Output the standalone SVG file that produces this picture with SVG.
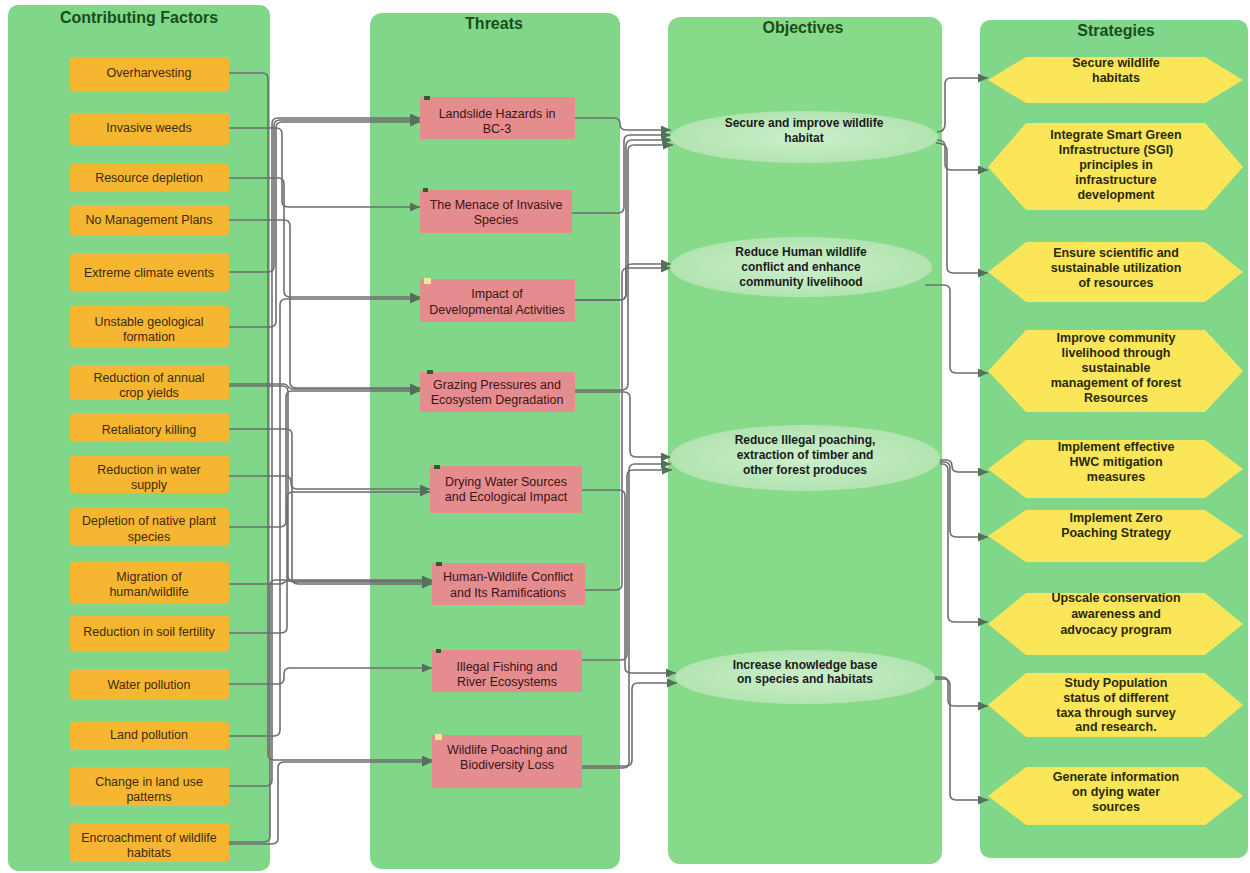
<svg xmlns="http://www.w3.org/2000/svg" width="1250" height="873" viewBox="0 0 1250 873">
<style>
.panel{fill:#80D78A}
.ptitle{font-family:"Liberation Sans",Arial,sans-serif;font-size:16px;font-weight:bold;fill:#1a4d1a;text-anchor:middle}
.fbox{fill:#F6B631}
.ftxt{font-family:"Liberation Sans",Arial,sans-serif;font-size:12.5px;fill:#3d2b0a;text-anchor:middle}
.tbox{fill:#E58C8F}
.ttxt{font-family:"Liberation Sans",Arial,sans-serif;font-size:12.5px;fill:#3a1515;text-anchor:middle}
.obj{fill:url(#eg)}
.otxt{font-family:"Liberation Sans",Arial,sans-serif;font-size:12px;font-weight:bold;fill:#1a1a1a;text-anchor:middle}
.hex{fill:#FBE65A}
.stxt{font-family:"Liberation Sans",Arial,sans-serif;font-size:12.5px;font-weight:bold;fill:#2a2a05;text-anchor:middle}
.edge{fill:none;stroke:#6e6e6e;stroke-width:1.6;marker-end:url(#arr)}
.mk{fill:#2d5e2d}
.mky{fill:#f3e79a}
</style>
<defs>
<marker id="arr" markerUnits="userSpaceOnUse" markerWidth="11" markerHeight="9" refX="10" refY="4.5" orient="auto">
<path d="M0,0 L10,4.5 L0,9 z" fill="#55705a"/>
</marker>
<radialGradient id="eg" cx="0.5" cy="0.5" r="0.5">
<stop offset="0" stop-color="#CDEFCB"/>
<stop offset="1" stop-color="#B2E4B1"/>
</radialGradient>
</defs>

<g id="panels">
<rect class="panel" x="8" y="5" width="262" height="866" rx="10"/>
<rect class="panel" x="370" y="13" width="250" height="856" rx="12"/>
<rect class="panel" x="668" y="17" width="274" height="847" rx="12" style="fill:#88DA8B"/>
<rect class="panel" x="980" y="20" width="268" height="838" rx="10"/>
<text class="ptitle" x="139" y="23">Contributing Factors</text>
<text class="ptitle" x="494" y="29">Threats</text>
<text class="ptitle" x="803" y="33">Objectives</text>
<text class="ptitle" x="1116" y="36">Strategies</text>
</g>

<g id="connectors">
<!-- factors to threats -->
<path class="edge" d="M228,73 H262 Q268,73 268,79 V754 Q268,760 274,760 H432"/>
<path class="edge" d="M228,128 H276 Q282,128 282,134 V201 Q282,207 288,207 H420"/>
<path class="edge" d="M228,272 H268 Q274,272 274,266 V126 Q274,120 280,120 H420"/>
<path class="edge" d="M228,327 H270 Q276,327 276,321 V128 Q276,122 282,122 H420"/>
<path class="edge" d="M228,786 H266 Q272,786 272,780 V124 Q272,118 278,118 H420"/>
<path class="edge" d="M228,178 H278 Q284,178 284,184 V291 Q284,297 290,297 H420"/>
<path class="edge" d="M228,736 H274 Q280,736 280,730 V305 Q280,299 286,299 H420"/>
<path class="edge" d="M228,220 H284 Q290,220 290,226 V382 Q290,388 296,388 H420"/>
<path class="edge" d="M228,384 H284 C288,384 288,389 292,389 H420"/>
<path class="edge" d="M228,527 H280 Q286,527 286,521 V397 Q286,391 292,391 H420"/>
<path class="edge" d="M228,633 H281 Q287,633 287,627 V498 Q287,492 293,492 H430"/>
<path class="edge" d="M228,476 H285 Q291,476 291,482 V483 Q291,489 297,489 H430"/>
<path class="edge" d="M228,584 H280 C284,584 284,581 288,581 H432"/>
<path class="edge" d="M228,429 H286 Q292,429 292,435 V578 Q292,584 298,584 H432"/>
<path class="edge" d="M228,842 H264 Q270,842 270,836 V586 Q270,580 276,580 H432"/>
<path class="edge" d="M228,684 H278 Q284,684 284,678 V674 Q284,668 290,668 H432"/>
<path class="edge" d="M228,386 H282 Q288,386 288,392 V576 Q288,582 294,582 H432"/>
<path class="edge" d="M228,844 H272 Q278,844 278,838 V768 Q278,762 284,762 H432"/>
<!-- threats to objectives -->
<path class="edge" d="M575,118 H614 Q620,118 620,124 Q620,130 626,130 H671"/>
<path class="edge" d="M572,213 H618 Q624,213 624,207 V141 Q624,135 630,135 H671"/>
<path class="edge" d="M575,300 H620 Q626,300 626,294 V146 Q626,140 632,140 H672"/>
<path class="edge" d="M575,300 H620 Q626,300 626,294 V270 Q626,264 632,264 H671"/>
<path class="edge" d="M575,390 H622 Q628,390 628,384 V151 Q628,145 634,145 H673"/>
<path class="edge" d="M575,392 H624 Q630,392 630,398 V451 Q630,457 636,457 H671"/>
<path class="edge" d="M582,490 H619 Q625,490 625,496 V667 Q625,673 631,673 H676"/>
<path class="edge" d="M585,590 H616 Q622,590 622,584 V274 Q622,268 628,268 H671"/>
<path class="edge" d="M582,660 H621 Q627,660 627,654 V476 Q627,470 633,470 H672"/>
<path class="edge" d="M582,768 H623 Q629,768 629,762 V470 Q629,464 635,464 H671"/>
<path class="edge" d="M582,766 H626 Q632,766 632,760 V689 Q632,683 638,683 H677"/>
<!-- objectives to strategies -->
<path class="edge" d="M937,132 Q945,132 945,124 V84 Q945,78 951,78 H988"/>
<path class="edge" d="M937,140 Q945,140 945,146 V164 Q945,170 951,170 H988"/>
<path class="edge" d="M936,143 Q947,143 947,151 V267 Q947,273 953,273 H988"/>
<path class="edge" d="M925,285 H944 Q950,285 950,291 V367 Q950,373 956,373 H988"/>
<path class="edge" d="M940,460 H946 Q952,460 952,466 Q952,472 958,472 H988"/>
<path class="edge" d="M940,462 H944 Q950,462 950,468 V531 Q950,537 956,537 H988"/>
<path class="edge" d="M940,464 H942 Q948,464 948,470 V616 Q948,622 954,622 H988"/>
<path class="edge" d="M935,677 H942 Q948,677 948,683 V700 Q948,706 954,706 H988"/>
<path class="edge" d="M935,679 H944 Q950,679 950,685 V794 Q950,800 956,800 H988"/>
</g>

<g id="factors">
<g id="f1"><rect class="fbox" x="70" y="57" width="159" height="34" rx="3"/><text class="ftxt" x="149" y="77">Overharvesting</text></g>
<g id="f2"><rect class="fbox" x="70" y="113" width="159" height="32" rx="3"/><text class="ftxt" x="149" y="132">Invasive weeds</text></g>
<g id="f3"><rect class="fbox" x="70" y="164" width="159" height="28" rx="3"/><text class="ftxt" x="149" y="182">Resource depletion</text></g>
<g id="f4"><rect class="fbox" x="70" y="205" width="159" height="31" rx="3"/><text class="ftxt" x="149" y="224">No Management Plans</text></g>
<g id="f5"><rect class="fbox" x="70" y="253" width="159" height="39" rx="3"/><text class="ftxt" x="149" y="277">Extreme climate events</text></g>
<g id="f6"><rect class="fbox" x="70" y="306" width="159" height="41" rx="3"/><text class="ftxt" x="149" y="326">Unstable geological</text><text class="ftxt" x="149" y="341">formation</text></g>
<g id="f7"><rect class="fbox" x="70" y="365" width="159" height="35" rx="3"/><text class="ftxt" x="149" y="382">Reduction of annual</text><text class="ftxt" x="149" y="397">crop yields</text></g>
<g id="f8"><rect class="fbox" x="70" y="413" width="159" height="29" rx="3"/><text class="ftxt" x="149" y="434">Retaliatory killing</text></g>
<g id="f9"><rect class="fbox" x="70" y="456" width="159" height="37" rx="3"/><text class="ftxt" x="149" y="474">Reduction in water</text><text class="ftxt" x="149" y="489">supply</text></g>
<g id="f10"><rect class="fbox" x="70" y="508" width="159" height="38" rx="3"/><text class="ftxt" x="149" y="525">Depletion of native plant</text><text class="ftxt" x="149" y="541">species</text></g>
<g id="f11"><rect class="fbox" x="70" y="562" width="159" height="42" rx="3"/><text class="ftxt" x="149" y="581">Migration of</text><text class="ftxt" x="149" y="596">human/wildlife</text></g>
<g id="f12"><rect class="fbox" x="70" y="616" width="159" height="35" rx="3"/><text class="ftxt" x="149" y="636">Reduction in soil fertility</text></g>
<g id="f13"><rect class="fbox" x="70" y="669" width="159" height="30" rx="3"/><text class="ftxt" x="149" y="689">Water pollution</text></g>
<g id="f14"><rect class="fbox" x="70" y="722" width="159" height="28" rx="3"/><text class="ftxt" x="149" y="739">Land pollution</text></g>
<g id="f15"><rect class="fbox" x="70" y="767" width="159" height="39" rx="3"/><text class="ftxt" x="149" y="786">Change in land use</text><text class="ftxt" x="149" y="801">patterns</text></g>
<g id="f16"><rect class="fbox" x="70" y="823" width="159" height="39" rx="3"/><text class="ftxt" x="149" y="842">Encroachment of wildlife</text><text class="ftxt" x="149" y="857">habitats</text></g>
</g>

<g id="threats">
<g id="t1"><rect class="tbox" x="420" y="97" width="155" height="42"/><rect class="mk" x="424" y="96" width="6" height="4"/><text class="ttxt" x="497" y="118">Landslide Hazards in</text><text class="ttxt" x="497" y="133">BC-3</text></g>
<g id="t2"><rect class="tbox" x="420" y="190" width="152" height="43"/><rect class="mk" x="423" y="188" width="5" height="4"/><text class="ttxt" x="496" y="209">The Menace of Invasive</text><text class="ttxt" x="496" y="224">Species</text></g>
<g id="t3"><rect class="tbox" x="420" y="279" width="155" height="43"/><rect class="mky" x="424" y="278" width="7" height="6"/><text class="ttxt" x="497" y="298">Impact of</text><text class="ttxt" x="497" y="314">Developmental Activities</text></g>
<g id="t4"><rect class="tbox" x="420" y="372" width="155" height="40"/><rect class="mk" x="427" y="370" width="6" height="4"/><text class="ttxt" x="497" y="389">Grazing Pressures and</text><text class="ttxt" x="497" y="404">Ecosystem Degradation</text></g>
<g id="t5"><rect class="tbox" x="430" y="466" width="152" height="47"/><rect class="mk" x="434" y="465" width="6" height="4"/><text class="ttxt" x="506" y="486">Drying Water Sources</text><text class="ttxt" x="506" y="501">and Ecological Impact</text></g>
<g id="t6"><rect class="tbox" x="432" y="563" width="153" height="42"/><rect class="mk" x="436" y="562" width="6" height="4"/><text class="ttxt" x="508" y="581">Human-Wildlife Conflict</text><text class="ttxt" x="508" y="597">and Its Ramifications</text></g>
<g id="t7"><rect class="tbox" x="432" y="650" width="150" height="42"/><rect class="mk" x="436" y="649" width="5" height="4"/><text class="ttxt" x="507" y="671">Illegal Fishing and</text><text class="ttxt" x="507" y="686">River Ecosystems</text></g>
<g id="t8"><rect class="tbox" x="432" y="735" width="150" height="53"/><rect class="mky" x="435" y="734" width="7" height="6"/><text class="ttxt" x="507" y="754">Wildlife Poaching and</text><text class="ttxt" x="507" y="769">Biodiversity Loss</text></g>
</g>

<g id="objectives">
<g id="o1"><ellipse class="obj" cx="804" cy="137" rx="134" ry="26"/><text class="otxt" x="804" y="127">Secure and improve wildlife</text><text class="otxt" x="804" y="142">habitat</text></g>
<g id="o2"><ellipse class="obj" cx="801" cy="267" rx="131" ry="30"/><text class="otxt" x="801" y="256">Reduce Human wildlife</text><text class="otxt" x="801" y="271">conflict and enhance</text><text class="otxt" x="801" y="286">community livelihood</text></g>
<g id="o3"><ellipse class="obj" cx="805" cy="458" rx="135" ry="33"/><text class="otxt" x="805" y="444">Reduce Illegal poaching,</text><text class="otxt" x="805" y="459">extraction of timber and</text><text class="otxt" x="805" y="474">other forest produces</text></g>
<g id="o4"><ellipse class="obj" cx="805" cy="677" rx="130" ry="27"/><text class="otxt" x="805" y="669">Increase knowledge base</text><text class="otxt" x="805" y="683">on species and habitats</text></g>
</g>

<g id="strategies">
<g id="s1"><polygon class="hex" points="988,80 1026,57 1205,57 1243,80 1205,103 1026,103"/><text class="stxt" x="1116" y="67">Secure wildlife</text><text class="stxt" x="1116" y="82">habitats</text></g>
<g id="s2"><polygon class="hex" points="988,167 1026,123 1205,123 1243,167 1205,210 1026,210"/><text class="stxt" x="1116" y="139">Integrate Smart Green</text><text class="stxt" x="1116" y="154">Infrastructure (SGI)</text><text class="stxt" x="1116" y="169">principles in</text><text class="stxt" x="1116" y="184">infrastructure</text><text class="stxt" x="1116" y="199">development</text></g>
<g id="s3"><polygon class="hex" points="988,272 1026,242 1205,242 1243,272 1205,302 1026,302"/><text class="stxt" x="1116" y="257">Ensure scientific and</text><text class="stxt" x="1116" y="272">sustainable utilization</text><text class="stxt" x="1116" y="287">of resources</text></g>
<g id="s4"><polygon class="hex" points="988,371 1026,330 1205,330 1243,371 1205,412 1026,412"/><text class="stxt" x="1116" y="342">Improve community</text><text class="stxt" x="1116" y="357">livelihood through</text><text class="stxt" x="1116" y="372">sustainable</text><text class="stxt" x="1116" y="387">management of forest</text><text class="stxt" x="1116" y="402">Resources</text></g>
<g id="s5"><polygon class="hex" points="988,469 1026,440 1205,440 1243,469 1205,498 1026,498"/><text class="stxt" x="1116" y="451">Implement effective</text><text class="stxt" x="1116" y="466">HWC mitigation</text><text class="stxt" x="1116" y="481">measures</text></g>
<g id="s6"><polygon class="hex" points="988,536 1026,510 1205,510 1243,536 1205,562 1026,562"/><text class="stxt" x="1116" y="522">Implement Zero</text><text class="stxt" x="1116" y="537">Poaching Strategy</text></g>
<g id="s7"><polygon class="hex" points="988,624 1026,593 1205,593 1243,624 1205,655 1026,655"/><text class="stxt" x="1116" y="602">Upscale conservation</text><text class="stxt" x="1116" y="618">awareness and</text><text class="stxt" x="1116" y="634">advocacy program</text></g>
<g id="s8"><polygon class="hex" points="988,705 1026,673 1205,673 1243,705 1205,737 1026,737"/><text class="stxt" x="1116" y="687">Study Population</text><text class="stxt" x="1116" y="702">status of different</text><text class="stxt" x="1116" y="717">taxa through survey</text><text class="stxt" x="1116" y="731">and research.</text></g>
<g id="s9"><polygon class="hex" points="988,796 1026,767 1205,767 1243,796 1205,825 1026,825"/><text class="stxt" x="1116" y="781">Generate information</text><text class="stxt" x="1116" y="796">on dying water</text><text class="stxt" x="1116" y="811">sources</text></g>
</g>
</svg>
